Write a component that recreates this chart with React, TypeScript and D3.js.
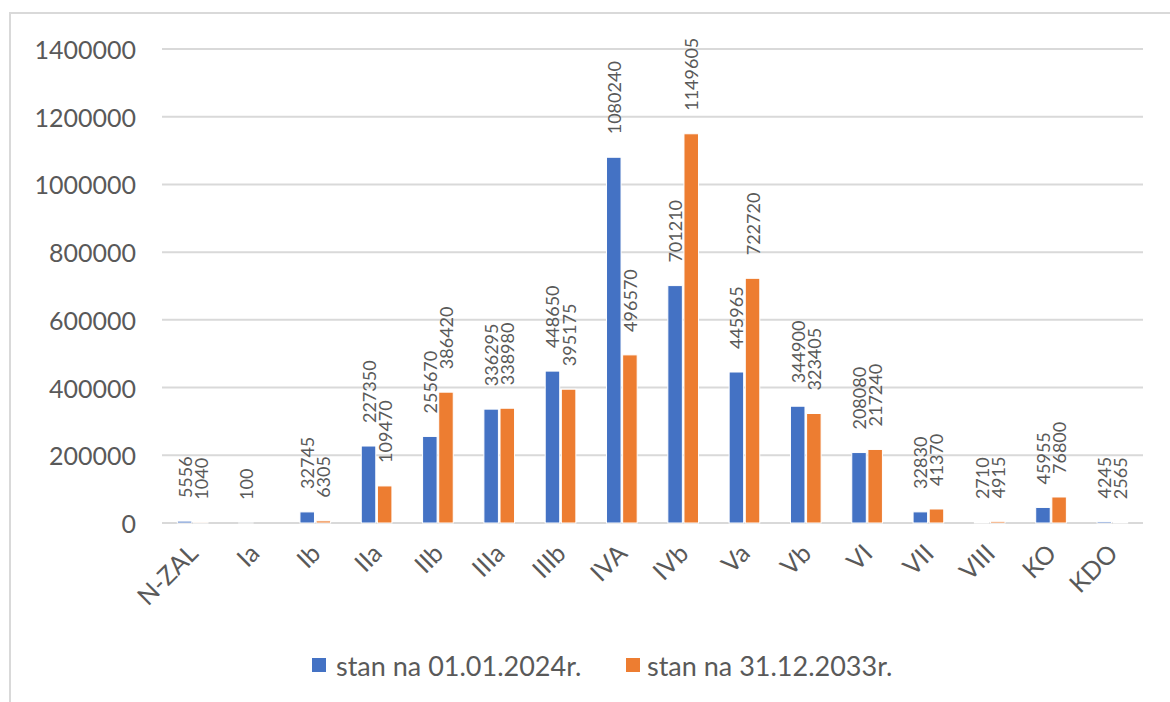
import React from "react";
import * as d3 from "d3";

const categories = ["N-ZAL", "Ia", "Ib", "IIa", "IIb", "IIIa", "IIIb", "IVA", "IVb", "Va", "Vb", "VI", "VII", "VIII", "KO", "KDO"];
const series2024 = [5556, 100, 32745, 227350, 255670, 336295, 448650, 1080240, 701210, 445965, 344900, 208080, 32830, 2710, 45955, 4245];
const series2033 = [1040, 0, 6305, 109470, 386420, 338980, 395175, 496570, 1149605, 722720, 323405, 217240, 41370, 4915, 76800, 2565];
const labels2033 = ["1040", "", "6305", "109470", "386420", "338980", "395175", "496570", "1149605", "722720", "323405", "217240", "41370", "4915", "76800", "2565"];
const seriesNames = ["stan na 01.01.2024r.", "stan na 31.12.2033r."];
const yTicks = [0, 200000, 400000, 600000, 800000, 1000000, 1200000, 1400000];
const colors = ["#4472C4", "#ED7D31"];

const W = 1170;
const H = 702;
const FONT = "Lato, 'Open Sans', sans-serif";
const TEXT = "#595959";

export default function App() {
  const x = d3.scaleBand<string>().domain(categories).range([162, 1143]).paddingInner(0.5).paddingOuter(0.25);
  const xi = d3.scaleBand<string>().domain(["a", "b"]).range([0, x.bandwidth()]).paddingInner(0.1);
  const y = d3.scaleLinear().domain([0, 1400000]).range([523, 49]);

  const data = [series2024, series2033];
  const labelText = [series2024.map(String), labels2033];

  return (
    <svg width={W} height={H} style={{ position: "fixed", left: 0, top: 0, background: "#fff" }} fontFamily={FONT}>
      <rect x={0} y={0} width={W} height={H} fill="#fff" />
      <rect x={10} y={13} width={W + 20} height={H + 20} fill="none" stroke="#D9D9D9" strokeWidth={2} />
      {yTicks.map((t) => (
        <g key={t}>
          <line x1={162} x2={1143} y1={y(t)} y2={y(t)} stroke="#D9D9D9" strokeWidth={2} />
          <text x={136} y={y(t)} textAnchor="end" dominantBaseline="central" fontSize={25} fill={TEXT}>
            {t}
          </text>
        </g>
      ))}
      {data.map((s, si) =>
        s.map((v, i) => {
          const bx = (x(categories[i]) as number) + (xi(si === 0 ? "a" : "b") as number);
          const bw = xi.bandwidth();
          return v > 0 ? (
            <rect key={`b${si}-${i}`} x={bx} y={y(v)} width={bw} height={y(0) - y(v)} fill={colors[si]} stroke="#fff" strokeWidth={1} />
          ) : null;
        })
      )}
      {data.map((s, si) =>
        s.map((v, i) => {
          const bx = (x(categories[i]) as number) + (xi(si === 0 ? "a" : "b") as number) + xi.bandwidth() / 2;
          const ly = y(v) - 23;
          const txt = labelText[si][i];
          if (!txt) return null;
          return (
            <text
              key={`l${si}-${i}`}
              transform={`translate(${bx},${ly}) rotate(-90)`}
              textAnchor="start"
              dominantBaseline="central"
              fontSize={18}
              fill={TEXT}
            >
              {txt}
            </text>
          );
        })
      )}
      {categories.map((c) => {
        const cx = (x(c) as number) + x.bandwidth() / 2 + 7;
        return (
          <text key={c} transform={`translate(${cx},555) rotate(-45)`} textAnchor="end" fontSize={25} fill={TEXT}>
            {c}
          </text>
        );
      })}
      <g>
        <rect x={312} y={658} width={14} height={14} fill={colors[0]} />
        <text x={336} y={665} dominantBaseline="central" fontSize={27} fill={TEXT}>
          {seriesNames[0]}
        </text>
        <rect x={626} y={658} width={14} height={14} fill={colors[1]} />
        <text x={647} y={665} dominantBaseline="central" fontSize={27} fill={TEXT}>
          {seriesNames[1]}
        </text>
      </g>
    </svg>
  );
}
